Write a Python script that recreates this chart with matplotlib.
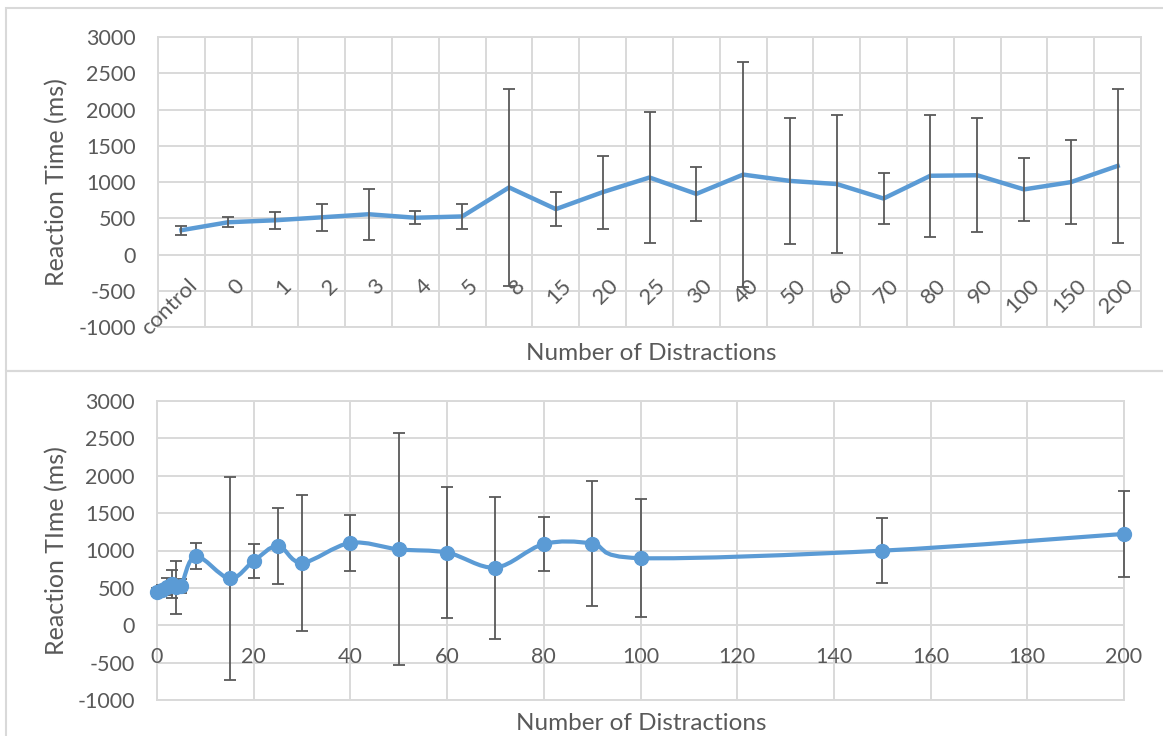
import numpy as np
import matplotlib
matplotlib.use("Agg")
from matplotlib import pyplot as plt
from matplotlib.path import Path
from matplotlib.patches import PathPatch, Rectangle

# values
categories = ["control", "0", "1", "2", "3", "4", "5", "8", "15", "20", "25",
              "30", "40", "50", "60", "70", "80", "90", "100", "150", "200"]
mean_rt = [335, 445, 472, 513, 555, 507, 525, 925, 626, 860, 1062,
           836, 1102, 1015, 972, 772, 1086, 1093, 898, 998, 1222]
top_err = [60, 70, 115, 190, 355, 93, 172, 1360, 230, 505, 910,
           373, 1550, 873, 947, 357, 840, 787, 438, 575, 1057]

distractions = [0, 1, 2, 3, 4, 5, 8, 15, 20, 25, 30, 40, 50, 60, 70, 80, 90, 100, 150, 200]
bottom_mean = mean_rt[1:]
bottom_err = [60, 70, 115, 190, 355, 93, 170, 1361, 231, 505, 909,
              372, 1551, 875, 950, 363, 840, 789, 438, 575]

y_ticks = [-1000, -500, 0, 500, 1000, 1500, 2000, 2500, 3000]
x_ticks_bottom = [0, 20, 40, 60, 80, 100, 120, 140, 160, 180, 200]

BLUE = "#5B9BD5"
TXT = "#595959"
GRID = "#D9D9D9"
plt.rcParams["font.family"] = ["Lato", "DejaVu Sans"]
plt.rcParams["axes.unicode_minus"] = False

W, H = 1163, 736
fig = plt.figure(figsize=(W / 100, H / 100), dpi=100)


def smooth_path(xs, ys):
    """Excel-like smoothed line: Catmull-Rom converted to cubic Bezier."""
    pts = np.column_stack([xs, ys]).astype(float)
    verts = [pts[0]]
    codes = [Path.MOVETO]
    n = len(pts)
    for i in range(n - 1):
        p0 = pts[i - 1] if i > 0 else pts[i]
        p1 = pts[i]
        p2 = pts[i + 1]
        p3 = pts[i + 2] if i + 2 < n else pts[i + 1]
        verts += [p1 + (p2 - p0) / 6.0, p2 - (p3 - p1) / 6.0, p2]
        codes += [Path.CURVE4] * 3
    return Path(verts, codes)


def style_axes(ax):
    ax.set_ylim(-1000, 3000)
    ax.set_yticks(y_ticks)
    ax.grid(True, color=GRID, lw=1.4)
    ax.set_axisbelow(True)
    for sp in ax.spines.values():
        sp.set_color(GRID)
        sp.set_linewidth(1.4)
        sp.set_zorder(1)
    ax.tick_params(length=0, labelsize=15.5, labelcolor=TXT, pad=16)
    ax.set_xticklabels([])


# chart area borders
fig.add_artist(Rectangle((6 / W, 1 - 371 / H), 1.1, (371 - 8) / H, transform=fig.transFigure,
                         fill=False, ec=GRID, lw=1.5, clip_on=False))
fig.add_artist(Rectangle((6 / W, -0.2), 1.1, 0.2 + 1 - 371 / H, transform=fig.transFigure,
                         fill=False, ec=GRID, lw=1.5, clip_on=False))

# ---- top panel: categorical axis
ax1 = fig.add_axes([158 / W, 1 - 327 / H, (1141 - 158) / W, (327 - 37) / H])
x = np.arange(len(categories))
ax1.set_xlim(-0.5, len(categories) - 0.5)
ax1.set_xticks(np.arange(-0.5, len(categories), 1.0))
style_axes(ax1)
ax1.plot(x, mean_rt, color=BLUE, lw=3.2, zorder=3, solid_joinstyle="round")
ax1.errorbar(x, mean_rt, yerr=top_err, fmt="none", ecolor="#595959",
             elinewidth=1.3, capsize=4.5, capthick=1.3, zorder=4)
for i, lab in enumerate(categories):
    ax1.text(i + 0.12, -290, lab, rotation=45, ha="right", va="top",
             rotation_mode="anchor", fontsize=16, color=TXT)

# ---- bottom panel: numeric axis
ax2 = fig.add_axes([157 / W, 1 - 700 / H, (1124 - 157) / W, (700 - 401) / H])
ax2.set_xlim(0, 200)
ax2.set_xticks(x_ticks_bottom)
style_axes(ax2)
eb = ax2.errorbar(distractions, bottom_mean, yerr=bottom_err, fmt="none", ecolor="#595959",
                  elinewidth=1.3, capsize=4.5, capthick=1.3, zorder=3)
for art in eb.get_children():
    art.set_clip_on(False)
ax2.add_patch(PathPatch(smooth_path(distractions, bottom_mean), fill=False,
                        ec=BLUE, lw=3, zorder=4, clip_on=False))
ax2.plot(distractions, bottom_mean, ls="none", marker="o", ms=10,
         color=BLUE, zorder=5, clip_on=False)
for v in x_ticks_bottom:
    ax2.text(v, -420, str(v), ha="center", va="center", fontsize=15.5, color=TXT)

# axis titles
fig.text(651 / W, 1 - 353 / H, "Number of Distractions", ha="center", va="center",
         fontsize=17.5, color=TXT)
fig.text(641 / W, 1 - 723 / H, "Number of Distractions", ha="center", va="center",
         fontsize=17.5, color=TXT)
fig.text(57 / W, 1 - 182 / H, "Reaction Time (ms)", rotation=90, ha="center",
         va="center", fontsize=18, color=TXT)
fig.text(57 / W, 1 - 551 / H, "Reaction TIme (ms)", rotation=90, ha="center",
         va="center", fontsize=18, color=TXT)

plt.savefig("out.png", dpi=100)
plt.close()
